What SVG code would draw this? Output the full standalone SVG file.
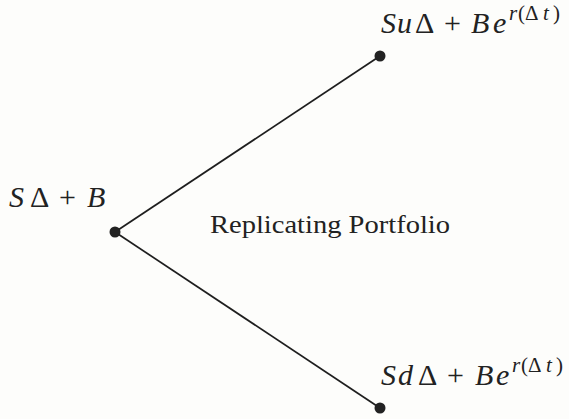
<svg xmlns="http://www.w3.org/2000/svg" width="569" height="419" viewBox="0 0 569 419">
<style>
.m{font-family:"Liberation Serif","DejaVu Serif",serif;font-size:30px;fill:#222}
.i{font-style:italic}
.s{font-size:21px}
.t{font-family:"Liberation Serif","DejaVu Serif",serif;font-size:25px;fill:#222}
.e{stroke:#1e1e1e;stroke-width:1.7;fill:none}
.d{fill:#222}
</style>
<rect width="569" height="419" fill="#fdfdfb"/>
<g id="connectors">
<line class="e" x1="115" y1="232" x2="380" y2="56"/>
<line class="e" x1="115" y1="232" x2="380" y2="408"/>
</g>
<g id="root">
<circle class="d" cx="115" cy="232" r="5.5"/>
<text class="m" y="207"><tspan class="i" x="9">S</tspan><tspan x="30">Δ</tspan><tspan x="59">+</tspan><tspan class="i" x="87">B</tspan></text>
</g>
<g id="label">
<text class="t" x="210" y="233" textLength="240" lengthAdjust="spacingAndGlyphs">Replicating Portfolio</text>
</g>
<g id="up">
<circle class="d" cx="380" cy="56" r="5.5"/>
<text class="m" y="33"><tspan class="i" x="381">S</tspan><tspan class="i" x="397">u</tspan><tspan x="415">Δ</tspan><tspan x="444">+</tspan><tspan class="i" x="471">B</tspan><tspan class="i" x="493">e</tspan></text>
<text class="m s" y="20"><tspan class="i" x="509">r</tspan><tspan x="518">(</tspan><tspan x="525">Δ</tspan><tspan class="i" x="543">t</tspan><tspan x="553">)</tspan></text>
</g>
<g id="down">
<circle class="d" cx="380" cy="408" r="5.5"/>
<text class="m" y="385"><tspan class="i" x="381">S</tspan><tspan class="i" x="398">d</tspan><tspan x="418">Δ</tspan><tspan x="447">+</tspan><tspan class="i" x="475">B</tspan><tspan class="i" x="496">e</tspan></text>
<text class="m s" y="372"><tspan class="i" x="512">r</tspan><tspan x="521">(</tspan><tspan x="528">Δ</tspan><tspan class="i" x="546">t</tspan><tspan x="556">)</tspan></text>
</g>
</svg>
